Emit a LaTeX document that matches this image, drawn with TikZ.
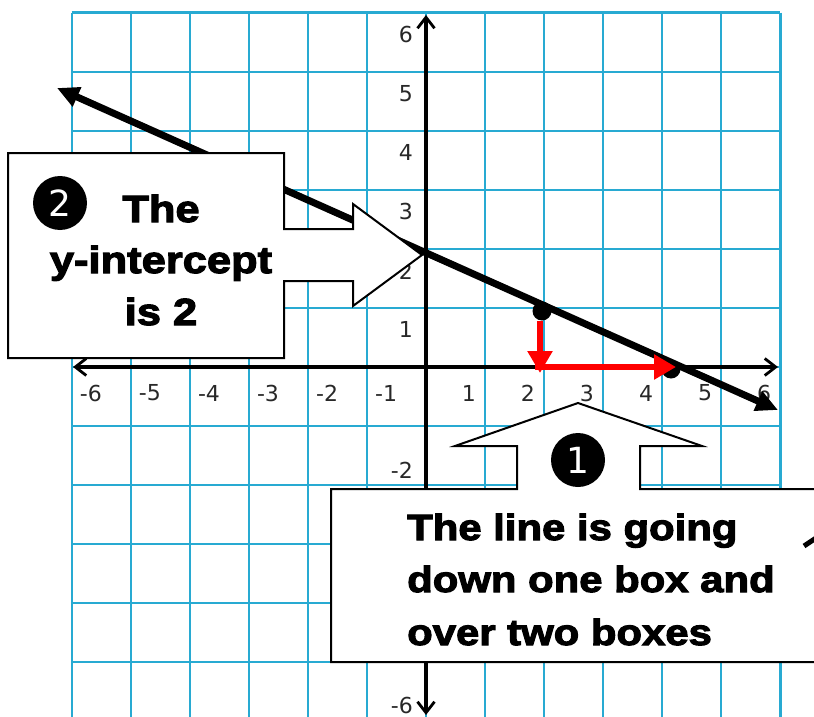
\documentclass[tikz,border=0pt]{standalone}
\usepackage{fontspec}
\setmainfont{DejaVu Sans}
\newfontfamily\heavy{Liberation Sans}[FakeStretch=1.15, BoldFeatures={FakeBold=3}]
\usetikzlibrary{arrows.meta}
\definecolor{gridblue}{RGB}{40,170,210}
\definecolor{ticktext}{RGB}{40,40,40}
\tikzset{
  gridline/.style={draw=gridblue, line width=2.4pt},
  axisline/.style={draw=black, line width=3.2pt, {Straight Barb[length=11pt,width=17pt,line width=2.8pt]}-{Straight Barb[length=11pt,width=17pt,line width=2.8pt]}},
  mainline/.style={draw=black, line width=7pt, {Triangle[length=22pt,width=20pt]}-{Triangle[length=22pt,width=20pt]}},
  redarrow/.style={draw=red, line width=6pt, -{Triangle[length=22pt,width=24pt]}},
  dot/.style={circle, fill=black, minimum size=19pt, inner sep=0pt},
  tick/.style={font=\fontsize{22}{24}\selectfont, text=ticktext, inner sep=0pt},
  callout/.style={draw=black, line width=2pt, fill=white, line join=miter},
  numcirc/.style={circle, fill=black, text=white, minimum size=54pt, inner sep=0pt, font=\fontsize{36}{36}\selectfont},
  bigtext/.style={inner sep=0pt, font=\heavy\bfseries\fontsize{37.8}{40}\selectfont},
  midtext/.style={inner sep=0pt, font=\heavy\bfseries\fontsize{36.4}{40}\selectfont}
}
\begin{document}
\begin{tikzpicture}[x=1pt,y=-1pt]
\useasboundingbox (0,0) rectangle (814,717);
\clip (0,0) rectangle (814,717);
\fill[white] (0,0) rectangle (814,717);
% grid
\foreach \i in {-6,...,6} {
  \draw[gridline] ({426+59.05*\i},12.7) -- ({426+59.05*\i},721.3);
  \draw[gridline] (71.7,{367-59.05*\i}) -- (780.3,{367-59.05*\i});
}
% axes
\coordinate (xl) at (73,367);
\coordinate (xr) at (778,367);
\coordinate (yt) at (426,15);
\coordinate (yb) at (426,715);
\draw[axisline] (xl) -- (xr);
\draw[axisline] (yb) -- (yt);
% x tick labels
\foreach \n in {-6,-5,-4,-3,-2,-1} {
  \node[tick, anchor=west] (xt\n) at ({426+59.05*\n+8},393) {\n};
}
\foreach \n in {1,2,3,4,5,6} {
  \node[tick, anchor=east] (xt\n) at ({426+59.05*\n-9},393) {\n};
}
% y tick labels
\foreach \n in {1,2,3,4,5,6} {
  \node[tick, anchor=east] (yt\n) at (413,{367-59.05*\n+22}) {\n};
}
\node[tick, anchor=east] (ytm2) at (413,470) {-2};
\node[tick, anchor=east] (ytm6) at (413,705) {-6};
% main line
\coordinate (la) at (57,88);
\coordinate (lb) at (778,410);
\draw[mainline] (la) -- (lb);
% dots
\node[dot] (d1) at (542,311) {};
\node[dot] (d2) at (671,369) {};
% red arrows
\coordinate (c1) at (540,373);
\coordinate (c2) at (535,367);
\coordinate (c3) at (676,367);
\draw[redarrow] (d1.south -| c1) -- (c1);
\draw[redarrow] (c2) -- (c3);
% callout 2 (y-intercept)
\draw[callout] (8,153) -- (284,153) -- (284,229) -- (353,229) -- (353,204)
  -- (422,255) -- (353,306) -- (353,281) -- (284,281) -- (284,358) -- (8,358) -- cycle;
\node[numcirc] (n2) at (60,203) {2};
\node[bigtext, anchor=base] (t2a) at (161,222) {The};
\node[bigtext, anchor=base] (t2b) at (161,273) {y-intercept};
\node[bigtext, anchor=base] (t2c) at (161,325) {is 2};
% callout 1 (slope)
\draw[callout] (331,489) -- (517,489) -- (517,446) -- (455,446) -- (578,403)
  -- (702,446) -- (640,446) -- (640,489) -- (830,489) -- (830,662) -- (331,662) -- cycle;
\node[numcirc] (n1) at (578,460) {1};
\node[midtext, anchor=base west] (t1a) at (407,540) {The line is going};
\node[midtext, anchor=base west] (t1b) at (407,592) {down one box and};
\node[midtext, anchor=base west] (t1c) at (407,645) {over two boxes};
% small mark at right edge
\coordinate (m1) at (804,546);
\coordinate (m2) at (816,538);
\draw[line width=5pt] (m1) -- (m2);
\end{tikzpicture}
\end{document}
